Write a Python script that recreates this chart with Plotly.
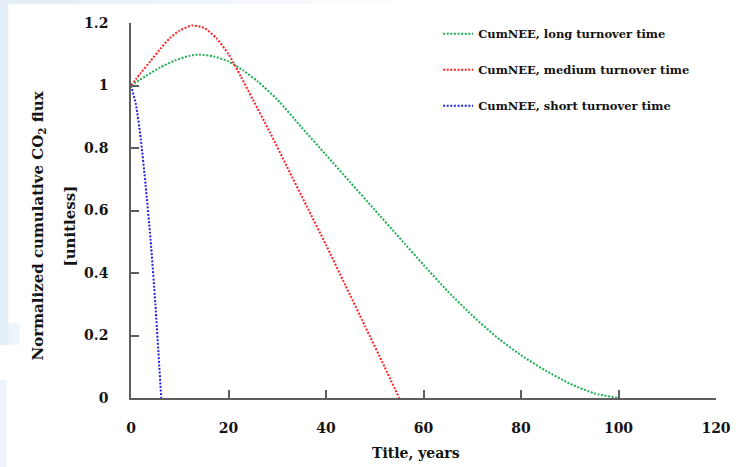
import plotly.graph_objects as go

# Normalized cumulative CO2 flux (CumNEE) versus time for three turnover times
years_long = [0, 3, 6, 9, 12, 14, 17, 20, 23, 26, 30, 35, 40, 45, 50, 55, 60, 65, 70, 75, 80, 85, 90, 95, 100]
cumnee_long = [1.0, 1.03, 1.058, 1.08, 1.095, 1.099, 1.093, 1.077, 1.048, 1.013, 0.955, 0.866, 0.778, 0.690,
               0.602, 0.514, 0.426, 0.341, 0.264, 0.195, 0.137, 0.088, 0.046, 0.015, 0.0]

years_medium = [0, 2, 4, 6, 8, 10, 12.5, 15, 17.5, 20, 22.5, 25, 28.5, 32, 36, 40, 44, 48, 52, 55]
cumnee_medium = [1.0, 1.04, 1.078, 1.117, 1.152, 1.176, 1.192, 1.184, 1.152, 1.10, 1.03, 0.955, 0.85, 0.74,
                 0.615, 0.49, 0.36, 0.23, 0.10, 0.0]

years_short = [0, 1, 2, 3, 4, 5, 6.2]
cumnee_short = [1.0, 0.94, 0.83, 0.68, 0.51, 0.30, 0.0]

series_names = ["CumNEE, long turnover time", "CumNEE, medium turnover time", "CumNEE, short turnover time"]
series_colors = ["#1fae55", "#ff2222", "#2323e0"]

x_ticks = [0, 20, 40, 60, 80, 100, 120]
y_ticks = [0, 0.2, 0.4, 0.6, 0.8, 1, 1.2]
y_tick_text = ["0", "0.2", "0.4", "0.6", "0.8", "1", "1.2"]

FONT = "DejaVu Serif"
INK = "#141414"
AXIS_GRAY = "#5e5e5e"

fig = go.Figure()
for i, (xs, ys) in enumerate([(years_long, cumnee_long), (years_medium, cumnee_medium),
                              (years_short, cumnee_short)]):
    fig.add_trace(go.Scatter(
        x=xs, y=ys, mode="lines", name=series_names[i], legendgroup=f"g{i}",
        line=dict(color=series_colors[i], width=2, dash="2px,1.6px", shape="spline", smoothing=0.6),
    ))

# pale page tint along the top and left edges
bg = []
for k, op in enumerate([1.0, 0.8, 0.6, 0.4, 0.2]):
    x0 = -0.2232 + k * 0.133
    bg.append(dict(type="rect", xref="paper", yref="paper", x0=x0, x1=x0 + 0.133,
                   y0=1.0507, y1=1.07, fillcolor="#e3eef8", opacity=op, line_width=0, layer="below"))
bg.append(dict(type="rect", xref="paper", yref="paper", x0=-0.23, x1=-0.2096,
               y0=0.1413, y1=1.07, fillcolor="#e3eef8", line_width=0, layer="below"))
bg.append(dict(type="rect", xref="paper", yref="paper", x0=-0.23, x1=-0.19,
               y0=0.1413, y1=0.20, fillcolor="#e3eef8", opacity=0.6, line_width=0, layer="below"))
bg.append(dict(type="rect", xref="paper", yref="paper", x0=-0.23, x1=-0.2125,
               y0=-0.19, y1=0.048, fillcolor="#eef4fa", line_width=0, layer="below"))

fig.update_layout(
    width=736, height=467,
    margin=dict(l=131, r=20, t=23, b=69),
    paper_bgcolor="white", plot_bgcolor="white",
    font=dict(family=FONT, color=INK, size=14, weight="bold"),
    showlegend=True,
    legend=dict(x=0.525, y=1.01, xanchor="left", yanchor="top", bgcolor="rgba(0,0,0,0)",
                font=dict(family=FONT, size=11.5, color=INK, weight="bold"), itemwidth=30,
                tracegroupgap=17),
    shapes=bg,
    xaxis=dict(range=[0, 120], tickvals=x_ticks, ticks="inside", ticklen=8, tickwidth=1.5,
               tickcolor=AXIS_GRAY, showline=True, linecolor=AXIS_GRAY, linewidth=1.5,
               showgrid=False, zeroline=False, ticklabelstandoff=16, automargin=False,
               tickfont=dict(family=FONT, size=14, color=INK, weight="bold")),
    yaxis=dict(range=[0, 1.2], tickvals=y_ticks, ticktext=y_tick_text, ticks="inside", ticklen=8,
               tickwidth=1.5, tickcolor=AXIS_GRAY, showline=True, linecolor=AXIS_GRAY, linewidth=1.5,
               showgrid=False, zeroline=False, ticklabelstandoff=18, automargin=False,
               tickfont=dict(family=FONT, size=14, color=INK, weight="bold")),
    annotations=[
        dict(text="Normalized cumulative CO<sub>2</sub> flux", xref="paper", yref="paper",
             x=-0.158, y=0.459, textangle=-90, showarrow=False, xanchor="center", yanchor="middle",
             font=dict(family=FONT, size=15, color=INK, weight="bold")),
        dict(text="[unitless]", xref="paper", yref="paper",
             x=-0.105, y=0.459, textangle=-90, showarrow=False, xanchor="center", yanchor="middle",
             font=dict(family=FONT, size=15, color=INK, weight="bold")),
        dict(text="Title, years", xref="paper", yref="paper",
             x=0.487, y=-0.1467, showarrow=False, xanchor="center", yanchor="middle",
             font=dict(family=FONT, size=14, color=INK, weight="bold")),
    ],
)

fig.write_html("out.html")
